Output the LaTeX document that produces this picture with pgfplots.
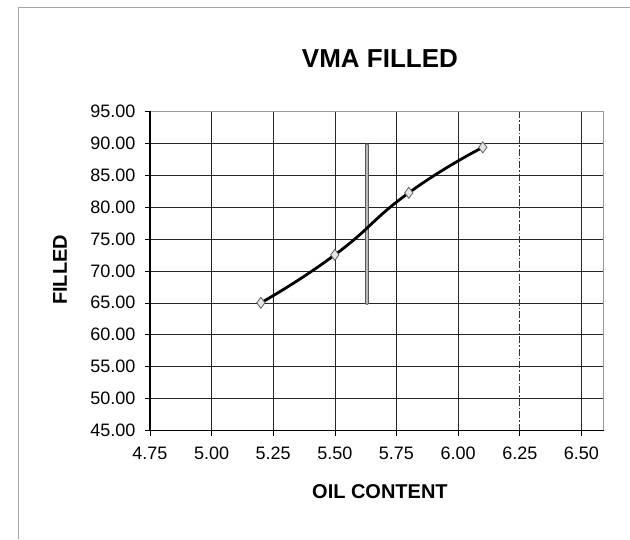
\documentclass[border=0pt]{standalone}
\usepackage{fontspec}
\setmainfont{Liberation Sans}
\usepackage{pgfplots}
\pgfplotsset{compat=1.18}
\begin{document}
\begin{tikzpicture}[x=1pt,y=1pt]
\path (0,0) rectangle (630,539);
\draw[gray!70, line width=0.8pt] (18,0) -- (18,532) -- (630,532);
\begin{axis}[
  at={(150pt,108pt)}, anchor=south west,
  scale only axis, width=454pt, height=320pt,
  xmin=4.75, xmax=6.59, ymin=45, ymax=95,
  xtick={4.75,5,5.25,5.5,5.75,6,6.5},
  extra x ticks={6.25},
  extra x tick style={grid=major, major grid style={black!80, line width=0.6pt, dash pattern=on 7pt off 2pt on 1.5pt off 2pt}},
  ytick={45,50,...,95},
  grid=major,
  major grid style={black!85, line width=0.6pt},
  axis line style={draw=none},
  tick align=outside, tick style={black, line width=0.6pt}, major tick length=5pt,
  xtick pos=bottom, ytick pos=left,
  /pgf/number format/assume math mode=true,
  /pgf/number format/.cd, fixed, fixed zerofill, precision=2, /pgfplots/.cd,
  ticklabel style={font=\fontsize{18}{20}\selectfont},
  xticklabel style={yshift=-8pt},
  yticklabel style={xshift=-6pt},
  title={\textbf{VMA FILLED}},
  title style={at={(axis description cs:0.507,1.144)}, anchor=center, font=\fontsize{26}{28}\selectfont},
  xlabel={\textbf{OIL CONTENT}},
  xlabel style={at={(axis description cs:0.507,-0.19)}, anchor=center, font=\fontsize{20}{22}\selectfont},
  ylabel={\textbf{FILLED}},
  ylabel style={at={(axis description cs:-0.198,0.503)}, anchor=center, rotate=0, font=\fontsize{20}{22}\selectfont},
  clip=false,
]
% plot frame
\draw[gray!80, line width=0.6pt] (axis cs:4.75,95) -- (axis cs:6.59,95) -- (axis cs:6.59,45);
\draw[black, line width=1.2pt] (axis cs:4.75,95) -- (axis cs:4.75,45) -- (axis cs:6.59,45);
% vertical bar
\addplot[gray!70!black, line width=4.2pt, line cap=round] coordinates {(5.63,65) (5.63,89.6)};
\addplot[gray!55, line width=2.6pt, line cap=round] coordinates {(5.63,65) (5.63,89.6)};
% curve
\addplot[black, line width=2.8pt, smooth, tension=0.9, mark=diamond*, mark size=5.5pt,
  mark options={fill=gray!20, draw=gray!75!black, line width=0.8pt}]
  coordinates {(5.2,65.0) (5.5,72.5) (5.8,82.2) (6.1,89.3)};
\end{axis}
\end{tikzpicture}
\end{document}
